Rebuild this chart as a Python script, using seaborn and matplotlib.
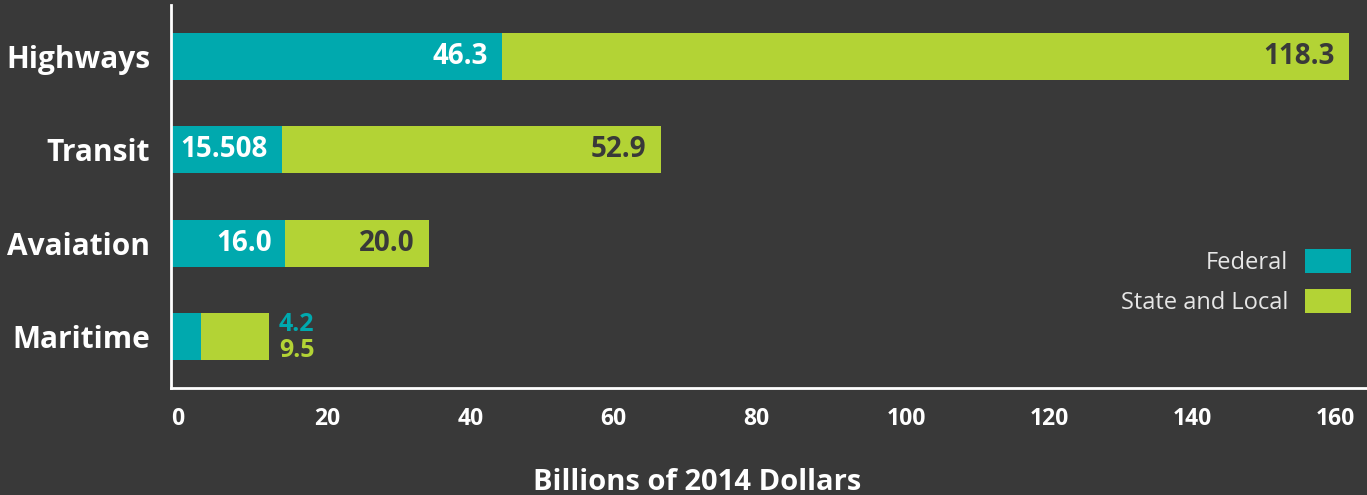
import matplotlib
matplotlib.use("Agg")
import matplotlib.pyplot as plt
import matplotlib.transforms as mtransforms
from matplotlib.patches import Patch
import pandas as pd
import seaborn as sns

# Spending by mode, billions of 2014 dollars
modes = ["Highways", "Transit", "Avaiation", "Maritime"]
federal = [46.3, 15.508, 16.0, 4.2]
state_local = [118.3, 52.9, 20.0, 9.5]
federal_text = ["46.3", "15.508", "16.0", "4.2"]
state_text = ["118.3", "52.9", "20.0", "9.5"]
x_ticks = [0, 20, 40, 60, 80, 100, 120, 140, 160]

BG = "#393939"
TEAL = "#00a9ae"
LIME = "#b3d335"
FONT = "Open Sans"

df = pd.DataFrame({"mode": modes, "federal": federal, "state": state_local})
df["total"] = df["federal"] + df["state"]

sns.set_theme(style="dark")
plt.rcParams["font.family"] = [FONT, "DejaVu Sans"]

fig = plt.figure(figsize=(13.67, 4.95), dpi=100, facecolor=BG)
ax = fig.add_axes([171 / 1367, 107 / 495, 1 - 171 / 1367, 383 / 495])
ax.set_facecolor(BG)

sns.barplot(data=df, y="mode", x="total", color=LIME, orient="h", width=0.5,
            saturation=1, ax=ax, linewidth=0)
sns.barplot(data=df, y="mode", x="federal", color=TEAL, orient="h", width=0.5,
            saturation=1, ax=ax, linewidth=0)

ax.set_xlim(0, (1367 - 172) / 7.15)
ax.set_ylim(3.55, -0.55)

# Value labels
to_left = mtransforms.offset_copy(ax.transData, fig=fig, x=-14, y=0, units="dots")
to_right = mtransforms.offset_copy(ax.transData, fig=fig, x=10, y=0, units="dots")
for i, row in df.iterrows():
    if row["mode"] == "Maritime":
        ax.text(row["total"], i - 0.13, federal_text[i], transform=to_right, ha="left",
                va="center", color=TEAL, fontsize=18, fontweight="bold", family=FONT)
        ax.text(row["total"], i + 0.15, state_text[i], transform=to_right, ha="left",
                va="center", color=LIME, fontsize=18, fontweight="bold", family=FONT)
    else:
        ax.text(row["federal"], i, federal_text[i], transform=to_left, ha="right",
                va="center", color="white", fontsize=20, fontweight="bold", family=FONT)
        ax.text(row["total"], i, state_text[i], transform=to_left, ha="right",
                va="center", color=BG, fontsize=20, fontweight="bold", family=FONT)

# Axes styling
for side in ["top", "right"]:
    ax.spines[side].set_visible(False)
for side in ["left", "bottom"]:
    ax.spines[side].set_visible(True)
    ax.spines[side].set_color("white")
    ax.spines[side].set_linewidth(2)

ax.set_xticks(x_ticks)
ax.set_xticklabels([str(t) for t in x_ticks])
ax.tick_params(axis="x", length=0, pad=14, colors="white", labelsize=16.5)
ax.tick_params(axis="y", length=0, pad=15, colors="white", labelsize=21.5)
for lbl in ax.get_xticklabels():
    lbl.set_fontweight("bold")
    lbl.set_horizontalalignment("left")
for lbl in ax.get_yticklabels():
    lbl.set_fontweight("bold")
ax.set_xlabel("")
ax.set_ylabel("")
ax.grid(False)

fig.text(697 / 1367, 13 / 495, "Billions of 2014 Dollars", ha="center", va="center",
         color="white", fontsize=21, fontweight="bold", family=FONT)

handles = [Patch(facecolor=TEAL, edgecolor="none", label="Federal"),
           Patch(facecolor=LIME, edgecolor="none", label="State and Local")]
leg = ax.legend(handles=handles, loc="upper right", bbox_to_anchor=(1360 / 1367, 255 / 495),
                bbox_transform=fig.transFigure, frameon=False, markerfirst=False,
                fontsize=17, handlelength=1.95, handleheight=1.15, labelspacing=0.6,
                handletextpad=0.7, borderaxespad=0)
for t in leg.get_texts():
    t.set_color("#e6e6e6")
    t.set_family(FONT)

fig.savefig("out.png", dpi=100, facecolor=BG)
